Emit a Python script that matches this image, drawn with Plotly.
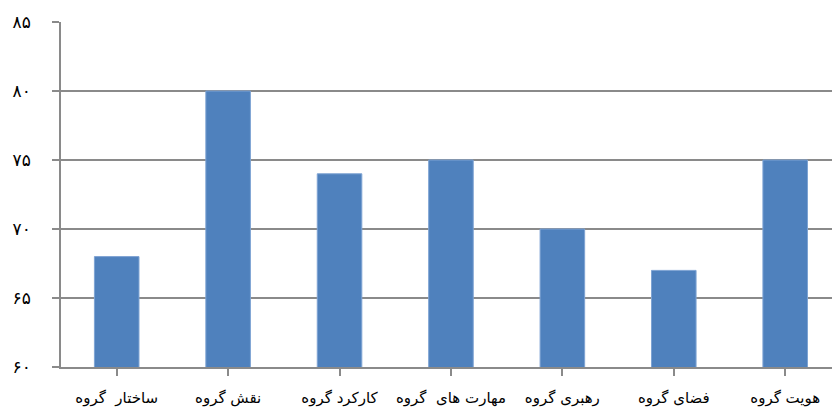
import plotly.graph_objects as go

# Group dimension scores
categories = ["ساختار  گروه", "نقش گروه", "کارکرد گروه", "مهارت های  گروه",
              "رهبری گروه", "فضای گروه", "هویت گروه"]
scores = [68, 80, 74, 75, 70, 67, 75]

# Y-axis ticks with Persian digits
y_tickvals = [60, 65, 70, 75, 80, 85]
y_ticktext = ["۶۰", "۶۵", "۷۰", "۷۵", "۸۰", "۸۵"]

grid_gray = "#8a8a8a"

fig = go.Figure(
    go.Bar(
        x=list(range(len(categories))),
        y=scores,
        base=0,
        marker=dict(color="#4f81bd", line=dict(color="#7ea3d3", width=1)),
        width=0.4,
    )
)

fig.update_layout(
    width=832,
    height=407,
    margin=dict(l=61, r=0, t=22, b=40),
    paper_bgcolor="white",
    plot_bgcolor="white",
    showlegend=False,
    font=dict(family="DejaVu Sans", color="black"),
)

fig.update_xaxes(
    range=[-0.5, 6.42],
    tickvals=list(range(len(categories))),
    ticktext=categories,
    tickson="boundaries",
    ticks="outside",
    ticklen=7,
    tickwidth=1.5,
    tickcolor=grid_gray,
    showline=True,
    linecolor=grid_gray,
    linewidth=1.5,
    showgrid=False,
    tickfont=dict(size=15),
    ticklabelstandoff=9,
)

fig.update_yaxes(
    range=[60, 85],
    tickvals=y_tickvals,
    ticktext=y_ticktext,
    ticks="outside",
    ticklen=7,
    tickwidth=1.5,
    tickcolor=grid_gray,
    showline=True,
    linecolor=grid_gray,
    linewidth=1.5,
    showgrid=True,
    gridcolor=grid_gray,
    gridwidth=1.5,
    zeroline=False,
    tickfont=dict(size=17),
    ticklabelstandoff=18,
)

fig.write_html("out.html")
